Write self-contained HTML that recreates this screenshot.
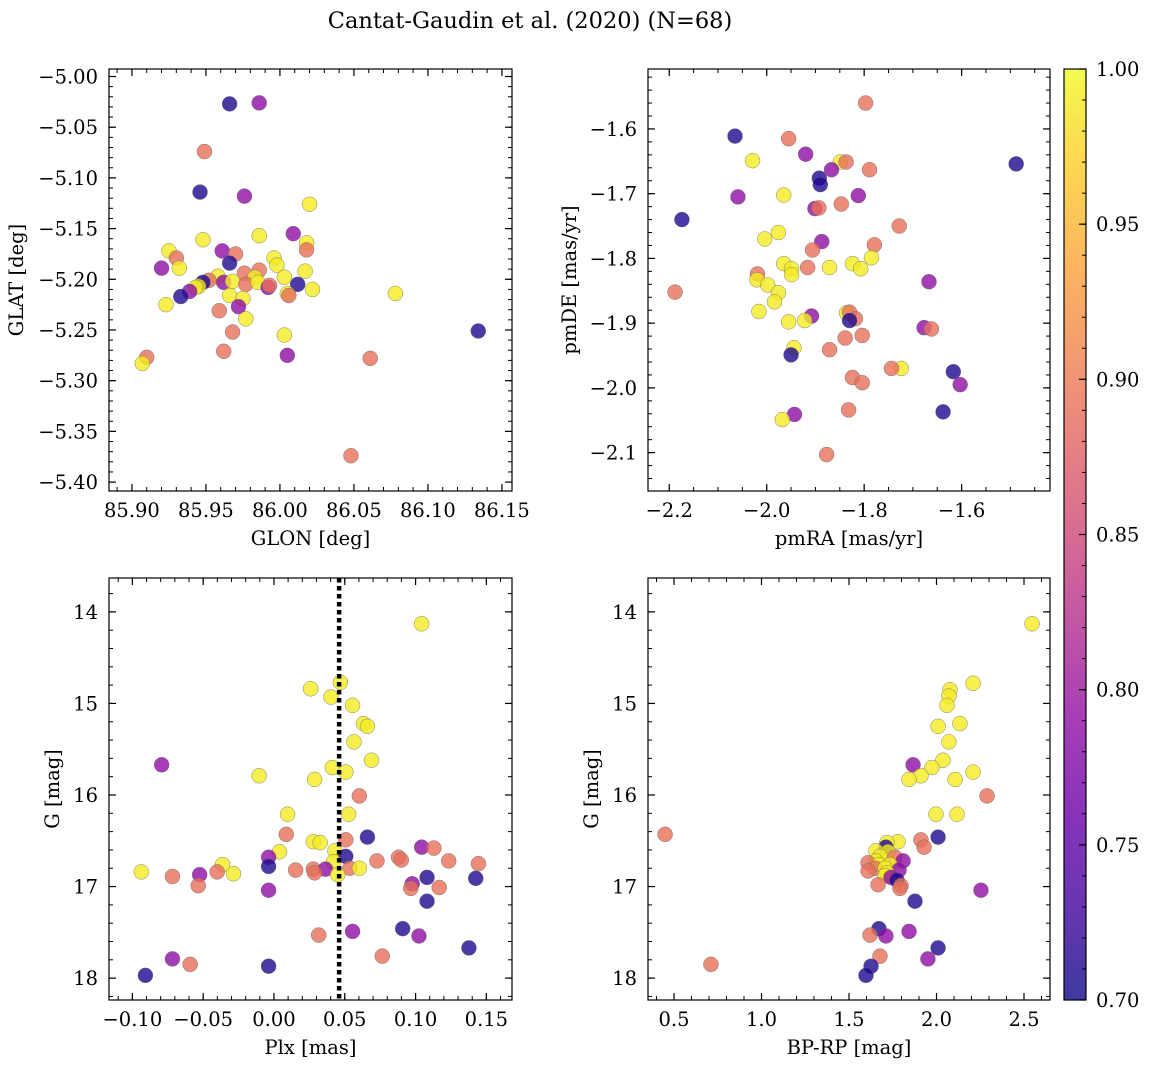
<!DOCTYPE html>
<html><head><meta charset="utf-8">
<style>
body{margin:0;background:#fff;}
svg text{font-family:"DejaVu Serif","Liberation Serif",serif;fill:#000;}
</style></head>
<body>
<svg id="chart" width="1149" height="1068" xmlns="http://www.w3.org/2000/svg">
<defs>
<linearGradient id="plasma" x1="0" y1="1" x2="0" y2="0">
<stop offset="0" stop-color="#0d0887"/><stop offset="0.1" stop-color="#41049d"/><stop offset="0.2" stop-color="#6a00a8"/><stop offset="0.3" stop-color="#8f0da4"/><stop offset="0.4" stop-color="#b12a90"/><stop offset="0.5" stop-color="#cc4778"/><stop offset="0.6" stop-color="#e16462"/><stop offset="0.7" stop-color="#f2844b"/><stop offset="0.8" stop-color="#fca636"/><stop offset="0.9" stop-color="#fcce25"/><stop offset="1" stop-color="#f0f921"/>
</linearGradient>
</defs>
<text x="530" y="28" text-anchor="middle" font-size="22.5">Cantat-Gaudin et al. (2020) (N=68)</text>
</svg>
<script>
// Panel 1: GLON / GLAT
const glon=[85.966,85.986,85.949,85.946,85.976,86.020,86.009,85.986,85.948,86.018,86.018,85.925,85.961,85.930,85.996,85.970,85.920,85.932,85.966,85.998,85.986,85.976,85.958,86.017,86.003,85.952,85.983,85.948,85.962,85.968,85.977,85.945,85.985,85.992,85.993,86.012,85.943,85.939,85.933,85.966,86.005,86.022,85.975,86.078,86.006,85.923,85.972,85.959,85.977,85.968,86.003,86.134,85.962,86.005,85.910,86.061,85.907,86.048];
const glat=[-5.027,-5.026,-5.074,-5.114,-5.118,-5.126,-5.155,-5.157,-5.161,-5.164,-5.171,-5.172,-5.172,-5.179,-5.179,-5.175,-5.189,-5.189,-5.184,-5.186,-5.191,-5.194,-5.197,-5.192,-5.198,-5.201,-5.198,-5.203,-5.203,-5.202,-5.205,-5.207,-5.203,-5.208,-5.206,-5.205,-5.208,-5.212,-5.217,-5.216,-5.214,-5.210,-5.219,-5.214,-5.216,-5.225,-5.227,-5.231,-5.239,-5.252,-5.255,-5.251,-5.271,-5.275,-5.277,-5.278,-5.283,-5.374];
const prob1=[0.71,0.79,0.89,0.71,0.79,0.99,0.79,0.99,0.99,0.99,0.89,0.99,0.79,0.89,0.99,0.89,0.79,0.99,0.71,0.99,0.89,0.89,0.99,0.99,0.99,0.89,0.99,0.71,0.79,0.99,0.89,0.99,0.99,0.79,0.89,0.71,0.99,0.79,0.71,0.99,0.99,0.99,0.99,0.99,0.89,0.99,0.79,0.89,0.99,0.89,0.99,0.71,0.89,0.79,0.89,0.89,0.99,0.89];
// Panel 2: pmRA / pmDE
const pmra=[-1.797,-2.065,-1.955,-1.488,-1.920,-2.029,-1.849,-1.837,-1.867,-1.789,-1.892,-1.890,-2.174,-2.059,-1.965,-1.812,-1.901,-1.893,-1.847,-1.728,-1.976,-2.004,-1.887,-1.779,-1.906,-1.824,-1.785,-1.965,-1.916,-1.871,-1.949,-1.949,-1.807,-2.188,-2.019,-2.020,-1.998,-1.667,-1.976,-1.984,-2.016,-1.908,-1.836,-1.830,-1.955,-1.922,-1.818,-1.830,-1.677,-1.662,-1.804,-1.839,-1.944,-1.950,-1.871,-1.724,-1.744,-1.617,-1.824,-1.804,-1.603,-1.638,-1.832,-1.943,-1.968,-1.877];
const pmde=[-1.560,-1.611,-1.615,-1.654,-1.639,-1.649,-1.651,-1.651,-1.663,-1.663,-1.676,-1.686,-1.740,-1.705,-1.702,-1.703,-1.723,-1.722,-1.716,-1.750,-1.760,-1.770,-1.774,-1.779,-1.787,-1.808,-1.799,-1.808,-1.814,-1.814,-1.816,-1.825,-1.816,-1.852,-1.824,-1.833,-1.841,-1.836,-1.853,-1.867,-1.882,-1.889,-1.884,-1.883,-1.898,-1.896,-1.893,-1.896,-1.907,-1.909,-1.919,-1.923,-1.938,-1.949,-1.941,-1.970,-1.970,-1.975,-1.984,-1.992,-1.995,-2.037,-2.034,-2.041,-2.049,-2.103];
const prob2=[0.89,0.71,0.89,0.71,0.79,0.99,0.99,0.89,0.79,0.89,0.71,0.71,0.71,0.79,0.99,0.79,0.79,0.89,0.89,0.89,0.99,0.99,0.79,0.89,0.89,0.99,0.99,0.99,0.89,0.99,0.99,0.99,0.99,0.89,0.89,0.99,0.99,0.79,0.99,0.99,0.99,0.79,0.99,0.89,0.99,0.99,0.89,0.71,0.79,0.89,0.89,0.89,0.99,0.71,0.89,0.99,0.89,0.71,0.89,0.89,0.79,0.71,0.89,0.79,0.99,0.89];
// Panel 3: Plx / G
const plx=[0.1043,0.0259,0.0402,0.0469,0.0555,0.0632,0.0660,0.0565,0.0689,-0.0793,0.0412,0.0507,-0.0105,0.0287,0.0603,0.0096,0.0527,0.0087,0.0660,0.0507,0.0278,0.0326,0.1043,0.1129,0.0039,0.0431,-0.0038,0.0880,0.0899,0.0507,0.0727,0.1234,0.1444,0.0421,-0.0363,-0.0038,0.0153,0.0278,0.0364,0.0536,0.0603,0.0287,-0.0937,-0.0401,-0.0286,-0.0525,-0.0717,0.0450,0.1081,0.1425,0.0976,-0.0535,0.0966,0.1167,-0.0038,0.1081,0.0909,0.0555,0.0316,0.1024,0.1377,0.0765,-0.0717,-0.0592,-0.0038,-0.0908];
const gmag3=[14.13,14.84,14.93,14.77,15.02,15.22,15.25,15.42,15.62,15.67,15.70,15.75,15.79,15.83,16.01,16.21,16.21,16.43,16.46,16.49,16.51,16.52,16.57,16.58,16.62,16.61,16.68,16.68,16.71,16.67,16.72,16.72,16.75,16.73,16.76,16.78,16.82,16.81,16.81,16.80,16.80,16.85,16.84,16.84,16.86,16.87,16.89,16.87,16.90,16.91,16.97,16.99,17.02,17.01,17.04,17.16,17.46,17.49,17.53,17.54,17.67,17.76,17.79,17.85,17.87,17.97];
const prob3=[0.99,0.99,0.99,0.99,0.99,0.99,0.99,0.99,0.99,0.79,0.99,0.99,0.99,0.99,0.89,0.99,0.99,0.89,0.71,0.89,0.99,0.99,0.79,0.89,0.99,0.99,0.79,0.89,0.89,0.71,0.89,0.89,0.89,0.99,0.99,0.71,0.89,0.89,0.79,0.89,0.99,0.89,0.99,0.89,0.99,0.79,0.89,0.99,0.71,0.71,0.79,0.89,0.89,0.89,0.79,0.71,0.71,0.79,0.89,0.79,0.71,0.89,0.79,0.89,0.71,0.71];
const plxCut=[0.046];
// Panel 4: BP-RP / G
const bprp=[2.546,2.209,2.077,2.071,2.060,2.134,2.009,2.071,2.037,1.866,1.974,1.911,2.209,1.843,2.106,2.289,1.997,2.117,0.449,2.009,1.911,1.780,1.717,1.929,1.711,1.654,1.723,1.677,1.763,1.654,1.809,1.609,1.734,1.671,1.649,1.706,1.786,1.609,1.717,1.706,1.740,1.774,1.666,1.797,1.791,1.671,1.843,1.620,1.711,1.677,1.951,1.626,1.597,2.254,1.877,2.009,0.711];
const gmag4=[14.13,14.78,14.85,14.92,15.02,15.22,15.25,15.42,15.62,15.67,15.70,15.79,15.75,15.83,15.83,16.01,16.21,16.21,16.43,16.46,16.49,16.51,16.52,16.57,16.57,16.61,16.62,16.67,16.68,16.72,16.72,16.74,16.76,16.76,16.80,16.80,16.82,16.83,16.85,16.88,16.90,16.93,16.98,16.99,17.02,17.46,17.49,17.53,17.54,17.76,17.79,17.87,17.97,17.04,17.16,17.67,17.85];
const prob4=[0.99,0.99,0.99,0.99,0.99,0.99,0.99,0.99,0.99,0.79,0.99,0.99,0.99,0.99,0.99,0.89,0.99,0.99,0.89,0.71,0.89,0.99,0.99,0.89,0.71,0.99,0.99,0.99,0.89,0.99,0.79,0.89,0.99,0.99,0.89,0.99,0.79,0.89,0.99,0.99,0.79,0.71,0.89,0.89,0.89,0.71,0.79,0.89,0.79,0.89,0.79,0.71,0.71,0.79,0.71,0.71,0.89];
const cbTicks=[0.70,0.75,0.80,0.85,0.90,0.95,1.00];

const NS="http://www.w3.org/2000/svg";
const svg=document.getElementById('chart');
const FS=19.5;
function mk(tag,attrs,parent){const e=document.createElementNS(NS,tag);for(const k in attrs)e.setAttribute(k,attrs[k]);(parent||svg).appendChild(e);return e;}
const stops=[[13,8,135],[65,4,157],[106,0,168],[143,13,164],[177,42,144],[204,71,120],[225,100,98],[242,132,75],[252,166,54],[252,206,37],[240,249,33]];
function plasma(p){let t=Math.max(0,Math.min(1,(p-0.7)/0.3))*10;const i=Math.min(9,Math.floor(t)),f=t-i;const a=stops[i],b=stops[i+1];return 'rgb('+a.map((v,k)=>Math.round(v+(b[k]-v)*f)).join(',')+')';}
function fmt(v,d){const s=Math.abs(v).toFixed(d);return (v<-1e-9?'\u2212':'')+s;}

function panel(cfg){
  const {name,L,R,T,B,x0,x1,y0,y1,xt,xminor,yt,yminor,xd,yd,xlab,ylab,ylabX}=cfg;
  const sx=v=>L+(v-x0)/(x1-x0)*(R-L);
  const sy=v=>B-(v-y0)/(y1-y0)*(B-T);
  const g=mk('g',{});
  
  
  const inX=v=>v>=Math.min(x0,x1)-1e-9&&v<=Math.max(x0,x1)+1e-9;
  const inY=v=>v>=Math.min(y0,y1)-1e-9&&v<=Math.max(y0,y1)+1e-9;
  for(let v=Math.ceil(Math.min(x0,x1)/xminor)*xminor;v<=Math.max(x0,x1);v+=xminor){const x=sx(v);
    mk('line',{x1:x,x2:x,y1:B,y2:B-4,stroke:'#000','stroke-width':1},g);mk('line',{x1:x,x2:x,y1:T,y2:T+4,stroke:'#000','stroke-width':1},g);}
  for(let v=Math.ceil(Math.min(y0,y1)/yminor)*yminor;v<=Math.max(y0,y1);v+=yminor){const y=sy(v);
    mk('line',{x1:L,x2:L+4,y1:y,y2:y,stroke:'#000','stroke-width':1},g);mk('line',{x1:R,x2:R-4,y1:y,y2:y,stroke:'#000','stroke-width':1},g);}
  const xg=mk('g',{},g);
  xt.filter(inX).forEach(v=>{const x=sx(v);
    mk('line',{x1:x,x2:x,y1:B,y2:B-7,stroke:'#000','stroke-width':1.2},xg);mk('line',{x1:x,x2:x,y1:T,y2:T+7,stroke:'#000','stroke-width':1.2},xg);
    const t=mk('text',{x:x,y:B+26,'text-anchor':'middle','font-size':FS},xg);t.textContent=fmt(v,xd);
    });
  const yg=mk('g',{},g);
  yt.filter(inY).forEach(v=>{const y=sy(v);
    mk('line',{x1:L,x2:L+7,y1:y,y2:y,stroke:'#000','stroke-width':1.2},yg);mk('line',{x1:R,x2:R-7,y1:y,y2:y,stroke:'#000','stroke-width':1.2},yg);
    const t=mk('text',{x:L-11,y:y+7,'text-anchor':'end','font-size':FS},yg);t.textContent=fmt(v,yd);
    });
  const xl=mk('text',{x:(L+R)/2,y:B+54,'text-anchor':'middle','font-size':FS},g);xl.textContent=xlab;
  
  const yl=mk('text',{x:ylabX,y:(T+B)/2,'text-anchor':'middle','font-size':FS,transform:`rotate(-90 ${ylabX} ${(T+B)/2})`},g);yl.textContent=ylab;
  
  const clip='c'+name;const cp=mk('clipPath',{id:clip},g);mk('rect',{x:L,y:T,width:R-L,height:B-T},cp);
  const pts=mk('g',{'clip-path':`url(#${clip})`},g);
  cfg.xs.forEach((v,i)=>{const c=mk('circle',{cx:sx(v),cy:sy(cfg.ys[i]),r:7.5,fill:plasma(cfg.ps[i]),'fill-opacity':0.8,stroke:'#666','stroke-width':0.5,'stroke-opacity':0.8},pts);
    });
  if(cfg.vline){cfg.vline.forEach(v=>{const l=mk('line',{x1:sx(v),x2:sx(v),y1:T,y2:B,stroke:'#000','stroke-width':4.5,'stroke-dasharray':'4.5,3.5'},g);
    });}
  const fr=mk('rect',{x:L,y:T,width:R-L,height:B-T,fill:'none',stroke:'#000','stroke-width':1.2},g);
  
}
function range(a,b,s){const r=[];for(let v=a;v<=b+1e-9;v+=s)r.push(Math.round(v*1000)/1000);return r;}
panel({name:'glon-glat-panel',L:109,R:512,T:69,B:491,x0:85.8845,x1:86.1568,y0:-5.4088,y1:-4.9926,xt:range(85.90,86.15,0.05),xminor:0.01,yt:range(-5.40,-5.00,0.05),yminor:0.01,xd:2,yd:2,xlab:'GLON [deg]',ylab:'GLAT [deg]',ylabX:23,xs:glon,ys:glat,ps:prob1});
panel({name:'proper-motion-panel',L:648,R:1050,T:69,B:491,x0:-2.2436,x1:-1.4186,y0:-2.1593,y1:-1.5074,xt:range(-2.2,-1.6,0.2),xminor:0.05,yt:range(-2.1,-1.6,0.1),yminor:0.02,xd:1,yd:1,xlab:'pmRA [mas/yr]',ylab:'pmDE [mas/yr]',ylabX:576,xs:pmra,ys:pmde,ps:prob2});
panel({name:'parallax-mag-panel',L:109,R:512,T:578,B:1000,x0:-0.1165,x1:0.1681,y0:18.239,y1:13.630,xt:range(-0.10,0.15,0.05),xminor:0.01,yt:range(14,18,1),yminor:0.2,xd:2,yd:0,xlab:'Plx [mas]',ylab:'G [mag]',ylabX:59,xs:plx,ys:gmag3,ps:prob3,vline:plxCut});
panel({name:'cmd-panel',L:648,R:1050,T:578,B:1000,x0:0.3514,x1:2.6486,y0:18.239,y1:13.630,xt:range(0.5,2.5,0.5),xminor:0.1,yt:range(14,18,1),yminor:0.2,xd:1,yd:0,xlab:'BP-RP [mag]',ylab:'G [mag]',ylabX:598,xs:bprp,ys:gmag4,ps:prob4});
const cb=mk('g',{});
const cL=1064,cR=1086,cT=69,cB=1000;const cy=v=>cB-(v-0.7)/0.3*(cB-cT);
mk('rect',{x:cL,y:cT,width:cR-cL,height:cB-cT,fill:'url(#plasma)','fill-opacity':0.8},cb);
for(let v=0.70;v<=1.0001;v+=0.01){const y=cy(v);mk('line',{x1:cR,x2:cR-4,y1:y,y2:y,stroke:'#000','stroke-width':1},cb);}
cbTicks.forEach(v=>{const y=cy(v);mk('line',{x1:cR,x2:cR-7,y1:y,y2:y,stroke:'#000','stroke-width':1.2},cb);
  const t=mk('text',{x:cR+10,y:y+7,'font-size':FS},cb);t.textContent=v.toFixed(2);
  });
mk('rect',{x:cL,y:cT,width:cR-cL,height:cB-cT,fill:'none',stroke:'#000','stroke-width':1.2},cb);
</script>
</body></html>
